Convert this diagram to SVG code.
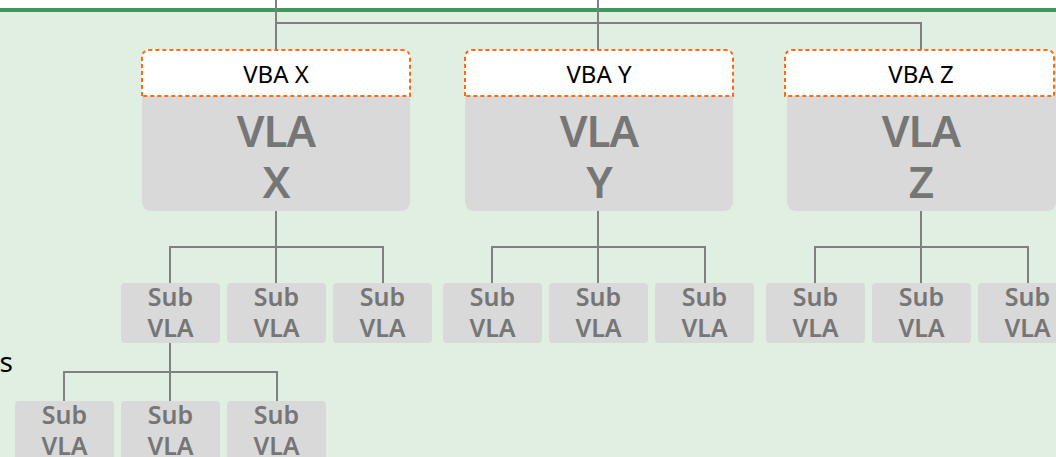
<svg xmlns="http://www.w3.org/2000/svg" width="1056" height="457" viewBox="0 0 1056 457">
<defs>
<style>
.bg{fill:#e1efe3}
.conn{fill:none;stroke:#808080;stroke-width:2}
.hdr{fill:#ffffff;stroke:#ff6a13;stroke-width:2;stroke-dasharray:4 3}
.body{fill:#d9d9d9}
.sub{fill:#d9d9d9}
.hdrtxt{font-family:"Noto Sans","Open Sans",sans-serif;font-size:24px;fill:#000;text-anchor:middle}
.big{font-family:"Noto Sans","Open Sans",sans-serif;font-size:44px;font-weight:600;fill:#767676;text-anchor:middle;letter-spacing:-1px}
.subtxt{font-family:"Noto Sans","Open Sans",sans-serif;font-size:25px;font-weight:600;fill:#767676;text-anchor:middle}
.lbl{font-family:"Noto Sans","Open Sans",sans-serif;font-size:28px;fill:#000}
</style>
</defs>
<rect x="0" y="0" width="1056" height="457" fill="#ffffff"/>
<rect class="bg" x="0" y="10" width="1056" height="447"/>
<rect x="0" y="8" width="1056" height="4" fill="#3d9a5b"/>
<text class="lbl" x="13" y="372" text-anchor="end">s</text>
<g id="connectors">
<path class="conn" d="M276,0 V50"/>
<path class="conn" d="M598,0 V50"/>
<path class="conn" d="M276,23 H921 V50"/>
<path class="conn" d="M276,211 V247 M170,283 V247 H383 V283 M276,247 V283"/>
<path class="conn" d="M598,211 V247 M492,283 V247 H705 V283 M598,247 V283"/>
<path class="conn" d="M921,211 V247 M815,283 V247 H1028 V283 M921,247 V283"/>
<path class="conn" d="M170,343 V372 M64,401 V372 H277 V401 M170,372 V401"/>
</g>
<g id="vla-x">
<path class="body" d="M142,96 H410 V201 Q410,211 400,211 H152 Q142,211 142,201 Z"/>
<path class="hdr" d="M142,96 V58 Q142,50 150,50 H402 Q410,50 410,58 V96 Z"/>
<text class="hdrtxt" x="276" y="83">VBA X</text>
<text class="big" x="276" y="147">VLA</text>
<text class="big" x="276" y="198">X</text>
</g>
<g id="vla-y">
<path class="body" d="M465,96 H733 V201 Q733,211 723,211 H475 Q465,211 465,201 Z"/>
<path class="hdr" d="M465,96 V58 Q465,50 473,50 H725 Q733,50 733,58 V96 Z"/>
<text class="hdrtxt" x="599" y="83">VBA Y</text>
<text class="big" x="599" y="147">VLA</text>
<text class="big" x="599" y="198">Y</text>
</g>
<g id="vla-z">
<path class="body" d="M787,96 H1056 V201 Q1056,211 1046,211 H797 Q787,211 787,201 Z"/>
<path class="hdr" d="M785,96 V58 Q785,50 793,50 H1046 Q1054,50 1054,58 V96 Z"/>
<text class="hdrtxt" x="921" y="83">VBA Z</text>
<text class="big" x="921" y="147">VLA</text>
<text class="big" x="921" y="198">Z</text>
</g>
<g id="sub-x1"><rect class="sub" x="121" y="283" width="99" height="60" rx="4"/><text class="subtxt" x="170.5" y="306">Sub</text><text class="subtxt" x="170.5" y="337">VLA</text></g>
<g id="sub-x2"><rect class="sub" x="227" y="283" width="99" height="60" rx="4"/><text class="subtxt" x="276.5" y="306">Sub</text><text class="subtxt" x="276.5" y="337">VLA</text></g>
<g id="sub-x3"><rect class="sub" x="333" y="283" width="99" height="60" rx="4"/><text class="subtxt" x="382.5" y="306">Sub</text><text class="subtxt" x="382.5" y="337">VLA</text></g>
<g id="sub-y1"><rect class="sub" x="443" y="283" width="99" height="60" rx="4"/><text class="subtxt" x="492.5" y="306">Sub</text><text class="subtxt" x="492.5" y="337">VLA</text></g>
<g id="sub-y2"><rect class="sub" x="549" y="283" width="99" height="60" rx="4"/><text class="subtxt" x="598.5" y="306">Sub</text><text class="subtxt" x="598.5" y="337">VLA</text></g>
<g id="sub-y3"><rect class="sub" x="655" y="283" width="99" height="60" rx="4"/><text class="subtxt" x="704.5" y="306">Sub</text><text class="subtxt" x="704.5" y="337">VLA</text></g>
<g id="sub-z1"><rect class="sub" x="766" y="283" width="99" height="60" rx="4"/><text class="subtxt" x="815.5" y="306">Sub</text><text class="subtxt" x="815.5" y="337">VLA</text></g>
<g id="sub-z2"><rect class="sub" x="872" y="283" width="99" height="60" rx="4"/><text class="subtxt" x="921.5" y="306">Sub</text><text class="subtxt" x="921.5" y="337">VLA</text></g>
<g id="sub-z3"><rect class="sub" x="978" y="283" width="99" height="60" rx="4"/><text class="subtxt" x="1027.5" y="306">Sub</text><text class="subtxt" x="1027.5" y="337">VLA</text></g>
<g id="sub-a1"><rect class="sub" x="15" y="401" width="99" height="60" rx="4"/><text class="subtxt" x="64.5" y="424">Sub</text><text class="subtxt" x="64.5" y="455">VLA</text></g>
<g id="sub-a2"><rect class="sub" x="121" y="401" width="99" height="60" rx="4"/><text class="subtxt" x="170.5" y="424">Sub</text><text class="subtxt" x="170.5" y="455">VLA</text></g>
<g id="sub-a3"><rect class="sub" x="227" y="401" width="99" height="60" rx="4"/><text class="subtxt" x="276.5" y="424">Sub</text><text class="subtxt" x="276.5" y="455">VLA</text></g>
</svg>
